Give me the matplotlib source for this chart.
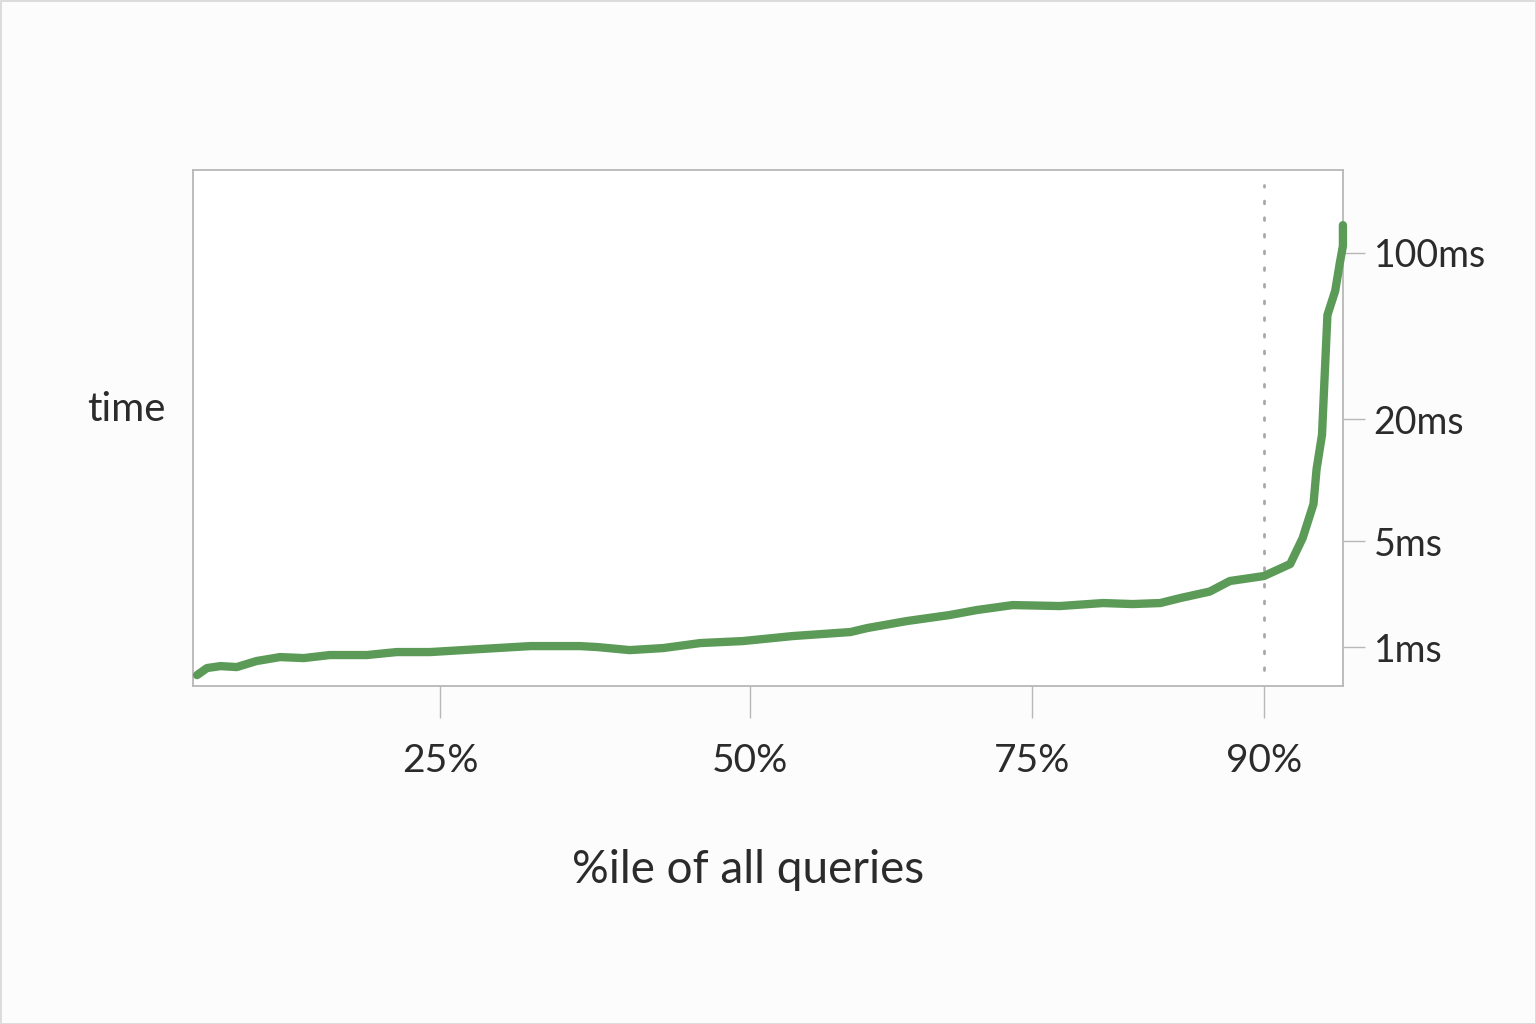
import numpy as np
import matplotlib
matplotlib.use("Agg")
import matplotlib.pyplot as plt

# query latency by percentile
pct = [5.4, 6.2, 7.3, 8.6, 10.2, 12.1, 14.0, 16.1, 19.1, 21.5, 24.2, 28.2, 32.3,
       36.3, 37.7, 40.3, 43.0, 46.0, 49.4, 53.8, 58.9, 60.4, 63.9, 67.7, 70.1,
       73.3, 76.8, 79.6, 81.5, 83.3, 84.6, 86.5, 87.8, 90.0, 91.7, 92.5, 93.2,
       93.4, 93.75, 93.9, 94.1, 94.6, 94.9, 95.1, 95.1]
ms = [0.653, 0.727, 0.749, 0.738, 0.809, 0.859, 0.846, 0.886, 0.886, 0.927,
      0.927, 0.970, 1.015, 1.015, 1.0, 0.955, 0.985, 1.063, 1.095, 1.182,
      1.256, 1.335, 1.484, 1.626, 1.754, 1.892, 1.864, 1.951, 1.921, 1.951,
      2.105, 2.323, 2.726, 2.94, 3.53, 5.17, 7.61, 11.33, 16.7, 28.3, 54.8,
      69.2, 90.8, 107, 131]

x_ticks = [25, 50, 75, 90]
x_labels = ["25%", "50%", "75%", "90%"]
y_ticks = [1, 5, 20, 100]
y_labels = ["1ms", "5ms", "20ms", "100ms"]
marker_pct = 90

# the sketch axes are hand spaced, so map them piecewise
PCT_ANCHOR = [0, 25, 50, 75, 90, 100]
PCT_POS = [130, 440, 750, 1032, 1264, 1419]
MS_ANCHOR = [0.1, 1, 5, 20, 100, 1000]
MS_POS = [225.4, 377, 483, 605, 771, 1008.5]


def x_fwd(v):
    return np.interp(v, PCT_ANCHOR, PCT_POS)


def x_inv(p):
    return np.interp(p, PCT_POS, PCT_ANCHOR)


def y_fwd(v):
    v = np.clip(np.asarray(v, dtype=float), 1e-3, None)
    return np.interp(np.log10(v), np.log10(MS_ANCHOR), MS_POS)


def y_inv(p):
    return 10 ** np.interp(p, MS_POS, np.log10(MS_ANCHOR))


plt.rcParams['font.family'] = ['Lato', 'DejaVu Sans']
text_col = "#2b2b2b"
grey = "#b8b8b8"

fig = plt.figure(figsize=(15.36, 10.24), dpi=100)
fig.patch.set_facecolor("#fcfcfc")
fig.patch.set_edgecolor("#dcdcdc")
fig.patch.set_linewidth(2)

ax = fig.add_axes([0.1257, 0.330, 0.7487, 0.504])
ax.set_facecolor("white")
ax.set_xscale('function', functions=(x_fwd, x_inv))
ax.set_yscale('function', functions=(y_fwd, y_inv))
ax.set_xlim(5.08, 95.11)
ax.set_ylim(0.553, 223.6)

# 90th percentile marker
ax.plot([marker_pct, marker_pct], [0.705, 193], color="#a8a8a8",
        linestyle=(0, (1, 5)), linewidth=2, dash_capstyle='round')

ax.plot(pct, ms, color="#5b9b57", linewidth=6, solid_capstyle='round',
        solid_joinstyle='round', clip_on=False, zorder=3)

for s in ax.spines.values():
    s.set_color(grey)
    s.set_linewidth(1.3)

ax.set_xticks(x_ticks)
ax.set_xticklabels(x_labels)
ax.set_yticks(y_ticks)
ax.set_yticklabels(y_labels)
ax.minorticks_off()
ax.yaxis.tick_right()
ax.tick_params(axis='x', length=23, width=1, color=grey, pad=18,
               labelsize=28, labelcolor=text_col)
ax.tick_params(axis='y', length=16, width=1, color=grey, pad=6,
               labelsize=27, labelcolor=text_col)
for lab in ax.get_xticklabels():
    lab.set_x(lab.get_position()[0])

ax.set_ylabel("time", rotation=0, fontsize=29, color=text_col, va='center', ha='center')
ax.yaxis.set_label_coords(-0.058, 0.535)
ax.set_xlabel("%ile of all queries", fontsize=33, color=text_col, va='center', ha='center')
ax.xaxis.set_label_coords(0.4826, -0.357)

fig.savefig("out.png", dpi=100, facecolor=fig.get_facecolor(), edgecolor=fig.get_edgecolor())
